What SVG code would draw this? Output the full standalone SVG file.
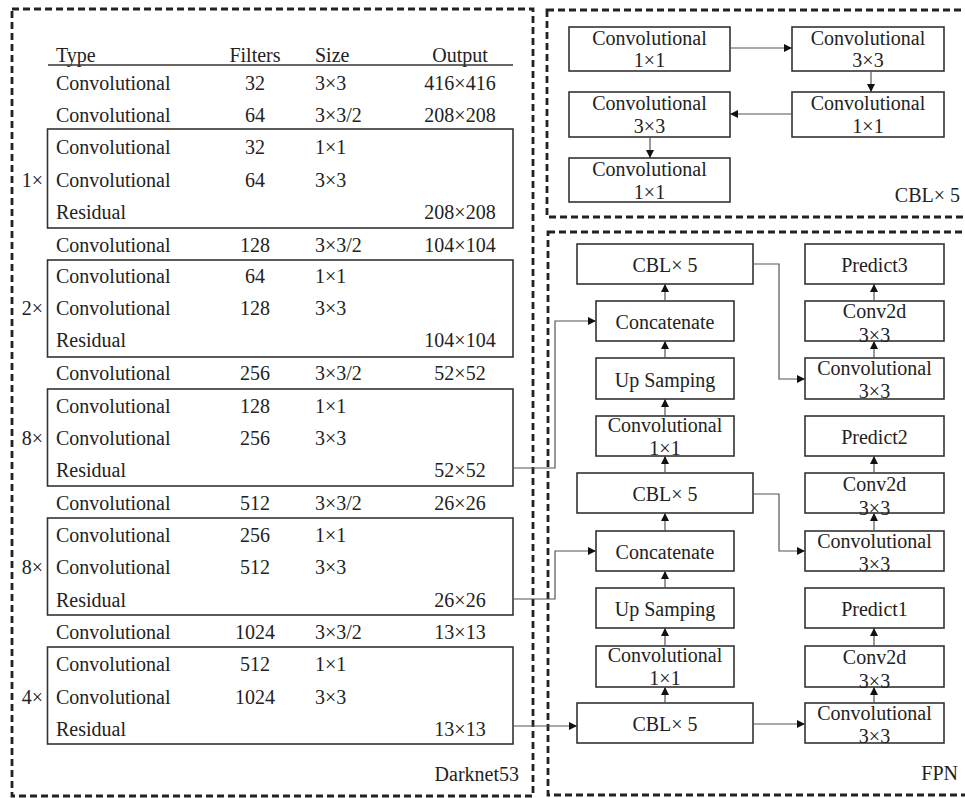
<svg xmlns="http://www.w3.org/2000/svg" width="965" height="798" viewBox="0 0 965 798">
<defs>
<marker id="ah" viewBox="0 0 10 10" refX="10" refY="5" markerWidth="8" markerHeight="8" markerUnits="userSpaceOnUse" orient="auto">
<path d="M0,0 L10,5 L0,10 z" fill="#111"/>
</marker>
<style>
text{font-family:"Liberation Serif","Times New Roman",serif;font-size:20px;fill:#222}
.c{text-anchor:middle}
.e{text-anchor:end}
.dash{fill:none;stroke:#222;stroke-width:2.8;stroke-dasharray:7 4}
.box{fill:#fff;stroke:#333;stroke-width:1.6}
.tb{fill:none;stroke:#333;stroke-width:1.6}
.ln{fill:none;stroke:#555;stroke-width:1.2}
.ar{fill:none;stroke:#555;stroke-width:1.2;marker-end:url(#ah)}
</style>
</defs>
<rect width="965" height="798" fill="#fff"/>

<!-- Darknet53 panel -->
<g id="darknet53">
<rect class="dash" x="12" y="9" width="521" height="787"/>
<text x="519" y="781" class="e">Darknet53</text>
<g id="header">
<text x="56" y="62">Type</text><text x="255" y="62" class="c">Filters</text><text x="315" y="62">Size</text><text x="460" y="62" class="c">Output</text>
<line x1="48" y1="65" x2="513" y2="65" stroke="#333" stroke-width="1.6"/>
</g>
<g id="row1"><text x="56" y="90">Convolutional</text><text x="255" y="90" class="c">32</text><text x="315" y="90">3×3</text><text x="460" y="90" class="c">416×416</text></g>
<g id="row2"><text x="56" y="121.5">Convolutional</text><text x="255" y="121.5" class="c">64</text><text x="315" y="121.5">3×3/2</text><text x="460" y="121.5" class="c">208×208</text></g>
<g id="block1">
<rect class="tb" x="47.5" y="129" width="465.5" height="99"/>
<text x="43" y="186.5" class="e">1×</text>
<text x="56" y="153.5">Convolutional</text><text x="255" y="153.5" class="c">32</text><text x="315" y="153.5">1×1</text>
<text x="56" y="186.5">Convolutional</text><text x="255" y="186.5" class="c">64</text><text x="315" y="186.5">3×3</text>
<text x="56" y="218.5">Residual</text><text x="460" y="218.5" class="c">208×208</text>
</g>
<g id="row3"><text x="56" y="251.5">Convolutional</text><text x="255" y="251.5" class="c">128</text><text x="315" y="251.5">3×3/2</text><text x="460" y="251.5" class="c">104×104</text></g>
<g id="block2">
<rect class="tb" x="47.5" y="260" width="465.5" height="97"/>
<text x="43" y="314.5" class="e">2×</text>
<text x="56" y="282.5">Convolutional</text><text x="255" y="282.5" class="c">64</text><text x="315" y="282.5">1×1</text>
<text x="56" y="314.5">Convolutional</text><text x="255" y="314.5" class="c">128</text><text x="315" y="314.5">3×3</text>
<text x="56" y="346.5">Residual</text><text x="460" y="346.5" class="c">104×104</text>
</g>
<g id="row4"><text x="56" y="379.5">Convolutional</text><text x="255" y="379.5" class="c">256</text><text x="315" y="379.5">3×3/2</text><text x="460" y="379.5" class="c">52×52</text></g>
<g id="block3">
<rect class="tb" x="47.5" y="389" width="465.5" height="97"/>
<text x="43" y="444.5" class="e">8×</text>
<text x="56" y="412.5">Convolutional</text><text x="255" y="412.5" class="c">128</text><text x="315" y="412.5">1×1</text>
<text x="56" y="444.5">Convolutional</text><text x="255" y="444.5" class="c">256</text><text x="315" y="444.5">3×3</text>
<text x="56" y="476.5">Residual</text><text x="460" y="476.5" class="c">52×52</text>
</g>
<g id="row5"><text x="56" y="509.5">Convolutional</text><text x="255" y="509.5" class="c">512</text><text x="315" y="509.5">3×3/2</text><text x="460" y="509.5" class="c">26×26</text></g>
<g id="block4">
<rect class="tb" x="47.5" y="518" width="465.5" height="97"/>
<text x="43" y="573.5" class="e">8×</text>
<text x="56" y="541.5">Convolutional</text><text x="255" y="541.5" class="c">256</text><text x="315" y="541.5">1×1</text>
<text x="56" y="573.5">Convolutional</text><text x="255" y="573.5" class="c">512</text><text x="315" y="573.5">3×3</text>
<text x="56" y="606.5">Residual</text><text x="460" y="606.5" class="c">26×26</text>
</g>
<g id="row6"><text x="56" y="638.5">Convolutional</text><text x="255" y="638.5" class="c">1024</text><text x="315" y="638.5">3×3/2</text><text x="460" y="638.5" class="c">13×13</text></g>
<g id="block5">
<rect class="tb" x="47.5" y="647" width="465.5" height="97"/>
<text x="43" y="703.5" class="e">4×</text>
<text x="56" y="670.5">Convolutional</text><text x="255" y="670.5" class="c">512</text><text x="315" y="670.5">1×1</text>
<text x="56" y="703.5">Convolutional</text><text x="255" y="703.5" class="c">1024</text><text x="315" y="703.5">3×3</text>
<text x="56" y="735.5">Residual</text><text x="460" y="735.5" class="c">13×13</text>
</g>
</g>

<!-- CBL x5 panel -->
<g id="cbl-panel">
<rect class="dash" x="547" y="10" width="440" height="207"/>
<text x="960" y="202" class="e">CBL× 5</text>
</g>
<g id="cblA"><rect class="box" x="569" y="27" width="161" height="44"/><text x="649.5" y="45" class="c">Convolutional</text><text x="649.5" y="67" class="c">1×1</text></g>
<g id="cblB"><rect class="box" x="792" y="27" width="152" height="44"/><text x="868" y="45" class="c">Convolutional</text><text x="868" y="67" class="c">3×3</text></g>
<g id="cblC"><rect class="box" x="792" y="92" width="152" height="45"/><text x="868" y="110" class="c">Convolutional</text><text x="868" y="133" class="c">1×1</text></g>
<g id="cblD"><rect class="box" x="569" y="92" width="161" height="45"/><text x="649.5" y="110" class="c">Convolutional</text><text x="649.5" y="133" class="c">3×3</text></g>
<g id="cblE"><rect class="box" x="569" y="158" width="161" height="44"/><text x="649.5" y="176" class="c">Convolutional</text><text x="649.5" y="199" class="c">1×1</text></g>

<!-- FPN panel -->
<g id="fpn-panel">
<rect class="dash" x="548" y="232" width="440" height="563"/>
<text x="958" y="780" class="e">FPN</text>
</g>
<g id="cbl5-1"><rect class="box" x="577" y="244" width="176" height="40"/><text x="665" y="272" class="c">CBL× 5</text></g>
<g id="concat-1"><rect class="box" x="596" y="301" width="138" height="40"/><text x="665" y="329" class="c">Concatenate</text></g>
<g id="up-1"><rect class="box" x="596" y="358" width="138" height="41"/><text x="665" y="387" class="c">Up Samping</text></g>
<g id="conv1x1-1"><rect class="box" x="596" y="416" width="138" height="40"/><text x="665" y="432" class="c">Convolutional</text><text x="665" y="455" class="c">1×1</text></g>
<g id="cbl5-2"><rect class="box" x="577" y="473" width="176" height="40"/><text x="665" y="501" class="c">CBL× 5</text></g>
<g id="concat-2"><rect class="box" x="596" y="531" width="138" height="40"/><text x="665" y="559" class="c">Concatenate</text></g>
<g id="up-2"><rect class="box" x="596" y="588" width="138" height="40"/><text x="665" y="616" class="c">Up Samping</text></g>
<g id="conv1x1-2"><rect class="box" x="596" y="646" width="138" height="41"/><text x="665" y="662" class="c">Convolutional</text><text x="665" y="685" class="c">1×1</text></g>
<g id="cbl5-3"><rect class="box" x="577" y="703" width="176" height="40"/><text x="665" y="731" class="c">CBL× 5</text></g>

<g id="predict3"><rect class="box" x="805" y="244" width="139" height="40"/><text x="874.5" y="272" class="c">Predict3</text></g>
<g id="conv2d-3"><rect class="box" x="805" y="301" width="139" height="40"/><text x="874.5" y="318" class="c">Conv2d</text><text x="874.5" y="342" class="c">3×3</text></g>
<g id="conv3x3-3"><rect class="box" x="805" y="358" width="139" height="41"/><text x="874.5" y="375" class="c">Convolutional</text><text x="874.5" y="398" class="c">3×3</text></g>
<g id="predict2"><rect class="box" x="805" y="416" width="139" height="40"/><text x="874.5" y="444" class="c">Predict2</text></g>
<g id="conv2d-2"><rect class="box" x="805" y="473" width="139" height="40"/><text x="874.5" y="491" class="c">Conv2d</text><text x="874.5" y="515" class="c">3×3</text></g>
<g id="conv3x3-2"><rect class="box" x="805" y="531" width="139" height="40"/><text x="874.5" y="548" class="c">Convolutional</text><text x="874.5" y="571" class="c">3×3</text></g>
<g id="predict1"><rect class="box" x="805" y="588" width="139" height="40"/><text x="874.5" y="616" class="c">Predict1</text></g>
<g id="conv2d-1"><rect class="box" x="805" y="646" width="139" height="41"/><text x="874.5" y="664" class="c">Conv2d</text><text x="874.5" y="688" class="c">3×3</text></g>
<g id="conv3x3-1"><rect class="box" x="805" y="703" width="139" height="40"/><text x="874.5" y="720" class="c">Convolutional</text><text x="874.5" y="743" class="c">3×3</text></g>

<g id="connectors">
<!-- CBL panel -->
<path class="ar" d="M730,48 H792"/>
<path class="ar" d="M871,71 V92"/>
<path class="ar" d="M792,114 H730"/>
<path class="ar" d="M650,137 V158"/>
<!-- Darknet to FPN -->
<path class="ar" d="M513,468 H555 V321 H596"/>
<path class="ar" d="M513,599 H555 V551 H596"/>
<path class="ar" d="M513,726 H577"/>
<!-- left column upward -->
<path class="ar" d="M665,301 V284"/>
<path class="ar" d="M665,358 V341"/>
<path class="ar" d="M665,416 V399"/>
<path class="ar" d="M665,473 V456"/>
<path class="ar" d="M665,531 V513"/>
<path class="ar" d="M665,588 V571"/>
<path class="ar" d="M665,646 V628"/>
<path class="ar" d="M665,703 V687"/>
<!-- right column upward -->
<path class="ar" d="M874,301 V284"/>
<path class="ar" d="M874,358 V341"/>
<path class="ar" d="M874,473 V456"/>
<path class="ar" d="M874,531 V513"/>
<path class="ar" d="M874,646 V628"/>
<path class="ar" d="M874,703 V687"/>
<!-- CBL to right column -->
<path class="ar" d="M753,264 H779 V379 H805"/>
<path class="ar" d="M753,494 H779 V551 H805"/>
<path class="ar" d="M753,724 H805"/>
</g>
</svg>
